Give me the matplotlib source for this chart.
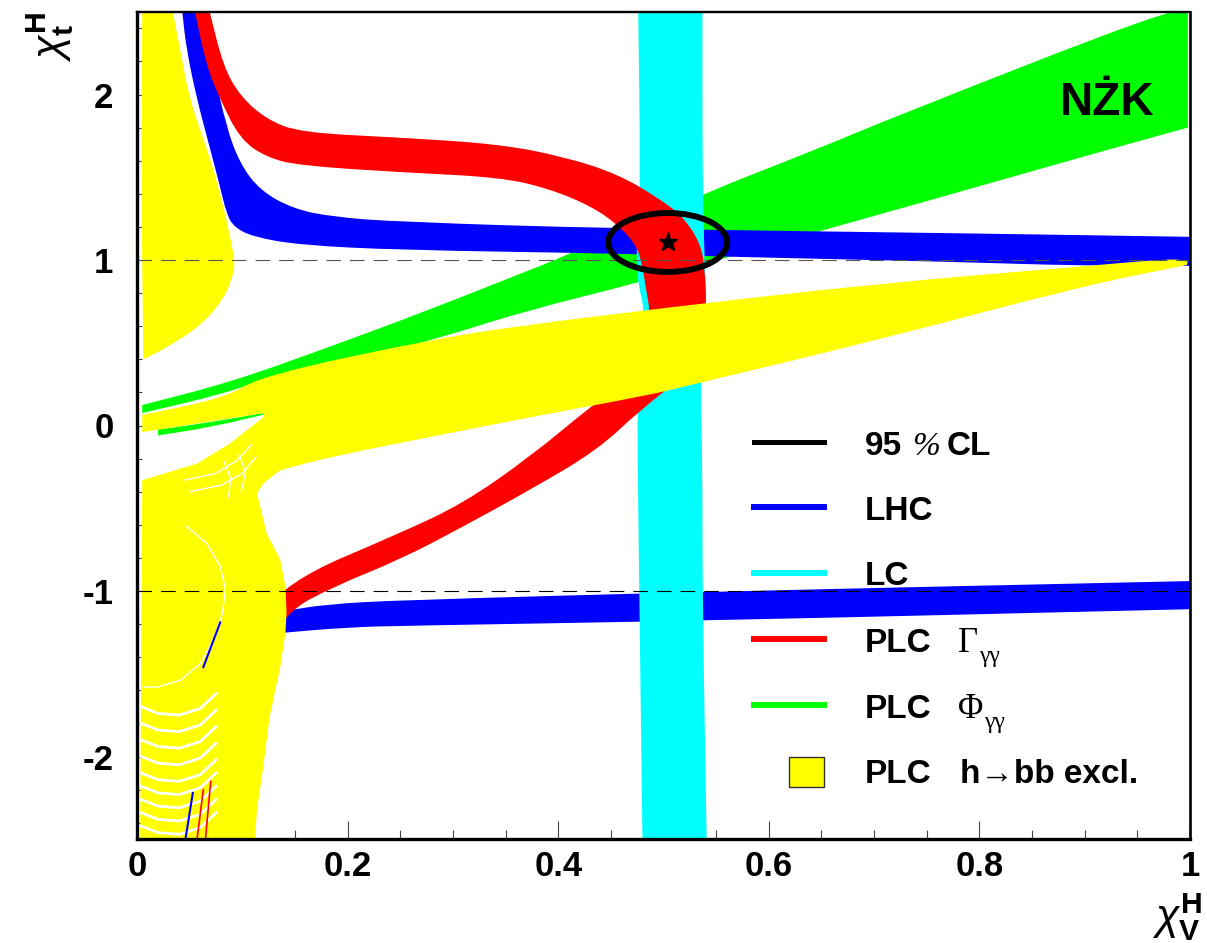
import numpy as np
import matplotlib
matplotlib.use('Agg')
import matplotlib.pyplot as plt
from matplotlib.patches import Ellipse, Rectangle, PathPatch
from matplotlib.path import Path
from matplotlib.lines import Line2D
from matplotlib.ticker import MultipleLocator

plt.rcParams['font.family'] = ['Liberation Sans', 'DejaVu Sans']
plt.rcParams['mathtext.fontset'] = 'custom'
plt.rcParams['mathtext.rm'] = 'Liberation Sans'
plt.rcParams['mathtext.it'] = 'Liberation Sans:italic'
plt.rcParams['mathtext.bf'] = 'Liberation Sans:bold'
plt.rcParams['lines.scale_dashes'] = False

# ---- allowed bands in the (chi_V, chi_t) plane, edges as (chi_V, chi_t) points ----
# LHC, upper branch
lhc_up_inner = [(0.043, 2.5), (0.047, 2.27), (0.057, 1.97), (0.067, 1.73), (0.079, 1.44),
                (0.085, 1.28), (0.092, 1.20), (0.110, 1.14), (0.155, 1.09), (0.25, 1.06),
                (0.45, 1.04), (0.557, 1.02), (0.77, 0.99), (0.896, 0.965), (1.0, 0.965)]
lhc_up_outer = [(0.065, 2.5), (0.072, 2.17), (0.085, 1.80), (0.098, 1.58), (0.117, 1.42),
                (0.148, 1.31), (0.186, 1.26), (0.25, 1.23), (0.45, 1.19), (0.80, 1.16),
                (1.0, 1.14)]
# LHC, lower branch
lhc_lo_top = [(0.10, -1.16), (0.141, -1.12), (0.18, -1.08), (0.25, -1.055), (0.535, -1.005),
              (1.0, -0.94)]
lhc_lo_bot = [(0.10, -1.28), (0.141, -1.25), (0.2, -1.22), (0.25, -1.21), (0.535, -1.18),
              (1.0, -1.11)]
# LC
lc_left = [(0.476, 2.5), (0.478, 1.5), (0.476, 1.2), (0.474, 1.0), (0.476, 0.85), (0.482, 0.70),
           (0.478, 0.5), (0.475, 0.2), (0.476, -0.5), (0.477, -1.0), (0.480, -2.5)]
lc_right = [(0.537, 2.5), (0.537, 1.5), (0.539, 1.0), (0.541, 0.7), (0.537, 0.4), (0.535, 0.2),
            (0.537, -0.2), (0.537, -1.0), (0.541, -2.5)]
# PLC Gamma_gg
gam_left = [(0.055, 2.5), (0.066, 2.17), (0.079, 1.97), (0.098, 1.73), (0.123, 1.62),
            (0.155, 1.57), (0.25, 1.53), (0.345, 1.50), (0.392, 1.43), (0.433, 1.32),
            (0.459, 1.20), (0.475, 1.08), (0.480, 0.96), (0.484, 0.80), (0.487, 0.70),
            (0.485, 0.50), (0.470, 0.30), (0.430, 0.11), (0.373, -0.19), (0.31, -0.47),
            (0.25, -0.65), (0.141, -0.945), (0.10, -1.3), (0.075, -1.9), (0.058, -2.5)]
gam_right = [(0.069, 2.5), (0.082, 2.17), (0.098, 1.99), (0.123, 1.85), (0.155, 1.77),
             (0.25, 1.74), (0.345, 1.70), (0.408, 1.62), (0.456, 1.52), (0.494, 1.38),
             (0.519, 1.26), (0.535, 1.10), (0.539, 0.96), (0.541, 0.72), (0.538, 0.50),
             (0.52, 0.30), (0.478, 0.094), (0.437, -0.15), (0.373, -0.39), (0.31, -0.61),
             (0.25, -0.81), (0.186, -0.975), (0.141, -1.13), (0.115, -1.45), (0.09, -2.0),
             (0.072, -2.5)]
# PLC Phi_gg
phi_upper = [(0.005, 0.124), (0.088, 0.26), (0.183, 0.475), (0.278, 0.70), (0.373, 0.94),
             (0.405, 1.02), (0.537, 1.40), (0.642, 1.66), (0.725, 1.88), (0.974, 2.5),
             (0.998, 2.5)]
phi_lower = [(0.005, 0.075), (0.085, 0.196), (0.12, 0.28), (0.2, 0.38), (0.288, 0.53),
             (0.373, 0.70), (0.475, 0.86), (0.651, 1.18), (0.725, 1.31), (0.921, 1.665),
             (0.998, 1.80)]
phi_strip_top = [(0.02, -0.025), (0.07, 0.02), (0.12, 0.075)]
phi_strip_bot = [(0.02, -0.06), (0.07, -0.01), (0.12, 0.065)]
# PLC h->bb exclusion
bb_blob_left = [(0.005, 2.5), (0.004, 1.5), (0.006, 0.40)]
bb_blob_right = [(0.034, 2.5), (0.041, 2.27), (0.050, 1.97), (0.063, 1.73), (0.072, 1.56),
                 (0.079, 1.40), (0.085, 1.24), (0.091, 1.06), (0.093, 0.98), (0.091, 0.90),
                 (0.082, 0.76), (0.060, 0.60), (0.028, 0.47), (0.006, 0.40)]
bb_band_top = [(0.005, 0.064), (0.085, 0.17), (0.12, 0.305), (0.288, 0.53), (0.373, 0.61),
               (0.50, 0.71), (0.706, 0.86), (0.896, 0.96), (0.984, 1.01), (0.998, 0.99)]
bb_band_bot = [(0.136, -0.27), (0.183, -0.19), (0.278, -0.07), (0.373, 0.05), (0.487, 0.185),
               (0.516, 0.23), (0.706, 0.52), (0.896, 0.84), (0.997, 0.97)]
bb_band_end = [(0.12, 0.075), (0.02, -0.025), (0.005, -0.04)]
bb_left = [(0.12, 0.05), (0.088, -0.11), (0.057, -0.23), (0.005, -0.33), (0.003, -2.5),
           (0.112, -2.5), (0.114, -2.32), (0.12, -2.06), (0.126, -1.76), (0.136, -1.46),
           (0.141, -1.255), (0.142, -1.13), (0.141, -0.975), (0.136, -0.81), (0.123, -0.65),
           (0.114, -0.41), (0.12, -0.35), (0.136, -0.27), (0.2, -0.15), (0.2, 0.2),
           (0.13, 0.2)]
# gaps inside the exclusion region
bb_gap_arc = [(0.047, -0.61), (0.066, -0.71), (0.079, -0.85), (0.084, -0.99), (0.081, -1.14),
              (0.072, -1.30), (0.060, -1.44), (0.041, -1.54), (0.019, -1.58), (0.006, -1.58)]
bb_gap_levels = [-1.74, -1.84, -1.94, -2.04, -2.14, -2.22, -2.30, -2.38, -2.46]
bb_gap_shape = [(0.004, 0.04), (0.02, 0.0), (0.04, -0.01), (0.06, 0.03), (0.075, 0.12)]
bb_gap_star = [[(0.045, -0.33), (0.075, -0.29), (0.095, -0.21), (0.108, -0.12)],
               [(0.05, -0.40), (0.08, -0.36), (0.10, -0.29), (0.113, -0.19)],
               [(0.083, -0.22), (0.089, -0.32), (0.087, -0.43)],
               [(0.097, -0.18), (0.103, -0.28), (0.099, -0.40)]]
lhc_seen = [[(0.079, -1.19), (0.063, -1.46)], [(0.053, -2.22), (0.046, -2.5)]]
gam_seen = [[(0.063, -2.2), (0.057, -2.5)], [(0.07, -2.15), (0.065, -2.5)]]

# best fit and 95% CL contour
best_fit = (0.504, 1.106)
cl95_axes = (0.113, 0.356)
ref_lines = [1.0, -1.0]

fig = plt.figure(figsize=(12.07, 9.43), dpi=100)
ax = fig.add_axes([137 / 1207, 1 - 839.25 / 943, 1053 / 1207, 827.5 / 943])
ax.set_xlim(0, 1)
ax.set_ylim(-2.5, 2.5)


def smooth_edge(pts):
    # quadratic bezier through the midpoints, keeping both ends
    verts = [pts[0]]
    codes = [Path.LINETO]
    if len(pts) > 2:
        verts.append(((pts[0][0] + pts[1][0]) / 2, (pts[0][1] + pts[1][1]) / 2))
        codes.append(Path.LINETO)
        for i in range(1, len(pts) - 1):
            nxt = pts[i + 1]
            verts += [pts[i], ((pts[i][0] + nxt[0]) / 2, (pts[i][1] + nxt[1]) / 2)]
            codes += [Path.CURVE3, Path.CURVE3]
    verts.append(pts[-1])
    codes.append(Path.LINETO)
    return verts, codes


def band(edge_a, edge_b, color, z, tail=()):
    va, ca = smooth_edge(edge_a)
    vb, cb = smooth_edge(edge_b[::-1])
    ca[0] = Path.MOVETO
    verts = va + vb + list(tail) + [va[0]]
    codes = ca + cb + [Path.LINETO] * len(tail) + [Path.CLOSEPOLY]
    ax.add_patch(PathPatch(Path(verts, codes), fc=color, lw=0, zorder=z))


def poly(pts, color, z):
    ax.fill([p[0] for p in pts], [p[1] for p in pts], color=color, lw=0, zorder=z)


band(phi_upper, phi_lower, '#00ff00', 1)
band(phi_strip_top, phi_strip_bot, '#00ff00', 1)
band(lhc_up_inner, lhc_up_outer, '#0000ff', 2)
band(lhc_lo_top, lhc_lo_bot, '#0000ff', 2)
band(lc_left, lc_right, '#00ffff', 3)
band(gam_left, gam_right, '#ff0000', 4)
band(bb_blob_left, bb_blob_right, '#ffff00', 5)
band(bb_band_top, bb_band_bot, '#ffff00', 5, tail=bb_band_end)
poly(bb_left, '#ffff00', 5)

ax.plot([p[0] for p in bb_gap_arc], [p[1] for p in bb_gap_arc], color='white', lw=1.0, zorder=5.5)
for lev in bb_gap_levels:
    ax.plot([p[0] for p in bb_gap_shape], [lev + p[1] for p in bb_gap_shape],
            color='white', lw=2.0, zorder=5.5)
for seg in bb_gap_star:
    ax.plot([p[0] for p in seg], [p[1] for p in seg], color='white', lw=1.0, zorder=5.5)
for seg in lhc_seen:
    ax.plot([p[0] for p in seg], [p[1] for p in seg], color='#0000ff', lw=1.5, zorder=6)
for seg in gam_seen:
    ax.plot([p[0] for p in seg], [p[1] for p in seg], color='#ff0000', lw=1.2, zorder=6)

for yv, c in zip(ref_lines, ['#555555', 'black']):
    ax.axhline(yv, color=c, lw=0.8, dashes=(10.5, 6.5), zorder=7)

ax.add_patch(Ellipse(best_fit, cl95_axes[0], cl95_axes[1], fill=False, ec='black', lw=4.3,
                     zorder=8))
ax.plot([best_fit[0]], [best_fit[1]], marker='*', color='black', ms=14, zorder=9)

ax.text(0.876, 1.876, 'NŻK', fontsize=33, fontweight='bold', ha='left', va='baseline',
        zorder=10)

# axes frame and ticks
for side, lw in [('left', 2.4), ('bottom', 2.4), ('top', 1.7), ('right', 1.9)]:
    ax.spines[side].set_linewidth(lw)
    ax.spines[side].set_zorder(11)
ax.xaxis.set_major_locator(MultipleLocator(0.2))
ax.xaxis.set_minor_locator(MultipleLocator(0.05))
ax.yaxis.set_major_locator(MultipleLocator(1))
ax.yaxis.set_minor_locator(MultipleLocator(0.2))
ax.xaxis.set_major_formatter(plt.FuncFormatter(lambda v, p: '%g' % round(v, 2)))
ax.yaxis.set_major_formatter(plt.FuncFormatter(lambda v, p: '%d' % round(v)))
ax.tick_params(axis='both', which='both', direction='in', top=False, right=False,
               color='#444444', width=0.8, labelsize=25)
ax.tick_params(axis='x', which='major', length=13, pad=8)
ax.tick_params(axis='x', which='minor', length=6.5)
ax.tick_params(axis='y', which='major', length=6, pad=17)
ax.tick_params(axis='y', which='minor', length=3.6)
for lab in ax.get_xticklabels() + ax.get_yticklabels():
    lab.set_fontweight('bold')
ax.set_axisbelow(False)


def fx(px):
    return px / 1207


def fy(py):
    return 1 - py / 943


fig.text(fx(50), fy(12), r'$\chi^{\mathbf{H}}_{\mathbf{t}}$', rotation=90, ha='center',
         va='top', fontsize=31)
fig.text(fx(1202), fy(943), r'$\chi^{\mathbf{H}}_{\mathbf{V}}$', ha='right', va='bottom',
         fontsize=31)

# legend
leg_lines = [('black', 3.6, 442), ('#0000ff', 4.3, 507), ('#00ffff', 4.3, 573),
             ('#ff0000', 4.3, 639), ('#00ff00', 4.3, 705)]
for c, lw, yy in leg_lines:
    fig.add_artist(Line2D([fx(754), fx(824)], [fy(yy), fy(yy)], color=c, lw=lw))
fig.add_artist(Rectangle((fx(789), fy(787)), fx(35), 30 / 943, fc='#ffff00', ec='#333333',
                         lw=1.0))
bold = dict(fontsize=24, fontweight='bold', va='baseline', ha='left')
serif = ['Liberation Serif', 'DejaVu Serif']
fig.text(fx(865), fy(455), '95', **bold)
fig.text(fx(912), fy(455), '%', fontsize=24, style='italic', family=serif, va='baseline')
fig.text(fx(947), fy(455), 'CL', **bold)
fig.text(fx(865), fy(520), 'LHC', **bold)
fig.text(fx(865), fy(585), 'LC', **bold)
fig.text(fx(865), fy(652), 'PLC', **bold)
fig.text(fx(958), fy(652), 'Γ', fontsize=25, family=serif, va='baseline')
fig.text(fx(979), fy(662), 'γγ', fontsize=17, family=serif, va='baseline')
fig.text(fx(865), fy(718), 'PLC', **bold)
fig.text(fx(958), fy(718), 'Φ', fontsize=25, family=serif, va='baseline')
fig.text(fx(984), fy(728), 'γγ', fontsize=17, family=serif, va='baseline')
fig.text(fx(865), fy(783), 'PLC', **bold)
fig.text(fx(960), fy(783), 'h→bb excl.', **bold)

fig.savefig('out.png', dpi=100)
